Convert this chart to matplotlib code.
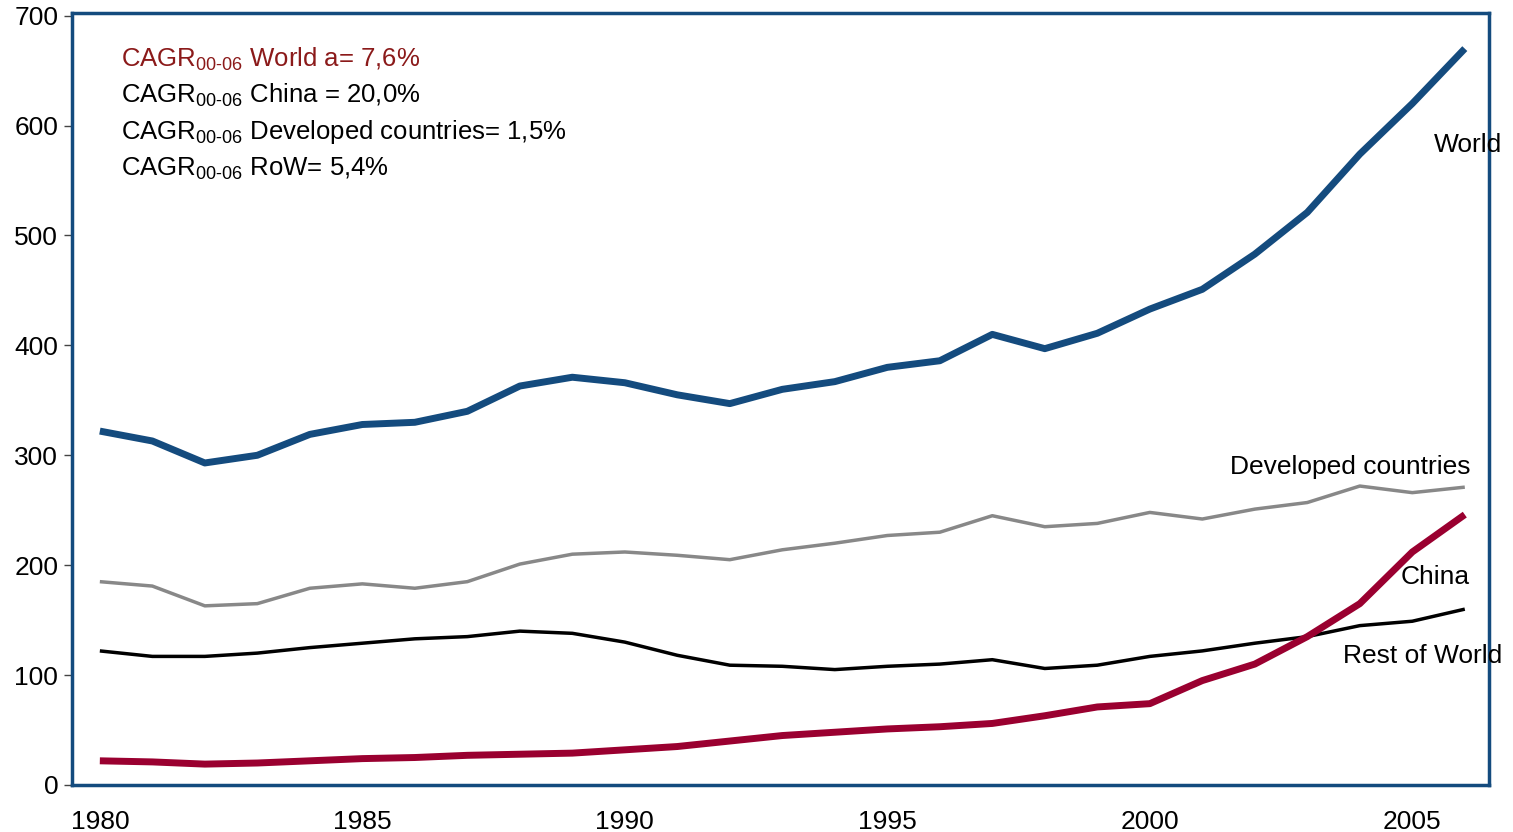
import numpy as np
import matplotlib
matplotlib.use("Agg")
import matplotlib.pyplot as plt

plt.rcParams['font.family'] = ['Liberation Sans', 'DejaVu Sans']
plt.rcParams['mathtext.fontset'] = 'custom'
plt.rcParams['mathtext.rm'] = 'Liberation Sans'
plt.rcParams['mathtext.it'] = 'Liberation Sans'

years = list(range(1980, 2007))
world = [322, 313, 293, 300, 319, 328, 330, 340, 363, 371, 366, 355, 347, 360,
         367, 380, 386, 410, 397, 411, 433, 451, 483, 521, 574, 620, 670]
developed = [185, 181, 163, 165, 179, 183, 179, 185, 201, 210, 212, 209, 205, 214,
             220, 227, 230, 245, 235, 238, 248, 242, 251, 257, 272, 266, 271]
rest_of_world = [122, 117, 117, 120, 125, 129, 133, 135, 140, 138, 130, 118, 109, 108,
                 105, 108, 110, 114, 106, 109, 117, 122, 129, 135, 145, 149, 160]
china = [22, 21, 19, 20, 22, 24, 25, 27, 28, 29, 32, 35, 40, 45,
         48, 51, 53, 56, 63, 71, 74, 95, 110, 135, 165, 212, 246]

cagr_lines = [
    ("World a= 7,6%", "#8b1a1a"),
    ("China = 20,0%", "black"),
    ("Developed countries= 1,5%", "black"),
    ("RoW= 5,4%", "black"),
]

blue = "#144b7e"
red = "#9a0030"

fig = plt.figure(figsize=(15.13, 8.32), dpi=100)
ax = fig.add_axes([0.0476, 0.0565, 0.9365, 0.928])

ax.plot(years, developed, color="#888888", lw=2.5, solid_capstyle="butt")
ax.plot(years, rest_of_world, color="black", lw=2.5, solid_capstyle="butt")
ax.plot(years, world, color=blue, lw=5, solid_capstyle="butt")
ax.plot(years, china, color=red, lw=5, solid_capstyle="butt")

ax.set_xlim(1979.47, 2006.46)
ax.set_ylim(0, 702.5)
ax.set_xticks([1980, 1985, 1990, 1995, 2000, 2005])
ax.set_yticks(range(0, 701, 100))
ax.tick_params(axis='x', labelsize=19, length=0, pad=18)
ax.tick_params(axis='y', labelsize=19, length=6, color='#444444', width=1, pad=4)
for s in ax.spines.values():
    s.set_color(blue)
    s.set_linewidth(2.5)

# series labels at the right end
lab = dict(fontsize=19, ha='right', va='center', clip_on=False)
ax.text(2006.72, 582, "World", **lab)
ax.text(2006.1, 289, "Developed countries", **lab)
ax.text(2006.1, 189, "China", **lab)
ax.text(2006.72, 117, "Rest of World", **lab)

ys = [0.940, 0.893, 0.846, 0.798]
for (txt, col), y in zip(cagr_lines, ys):
    ax.text(0.0345, y, r"CAGR$_{\text{00-06}}$ " + txt, transform=ax.transAxes,
            fontsize=18.5, color=col, ha='left', va='center')

fig.savefig("out.png", dpi=100)
